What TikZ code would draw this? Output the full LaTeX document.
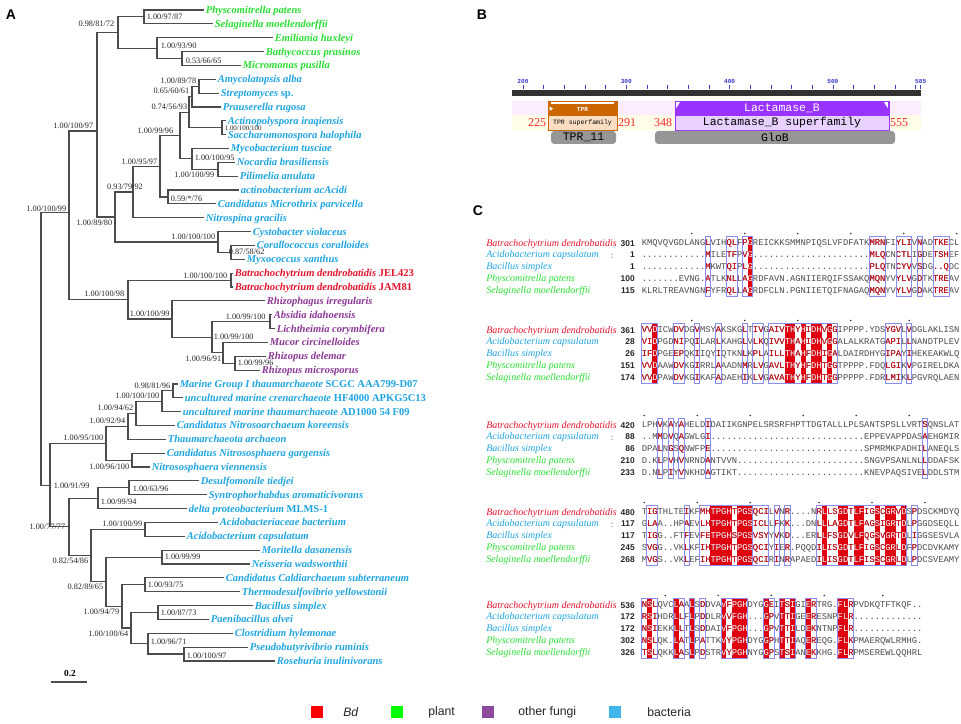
\documentclass[tikz,border=0pt]{standalone}
\usepackage{fontspec}
\setmainfont{Liberation Serif}
\setsansfont{Liberation Sans}
\newfontfamily\seqfont{Liberation Mono}
\usepackage{xcolor}
\usepackage{tikz}
\usetikzlibrary{positioning}

\definecolor{plantgreen}{RGB}{40,222,50}
\definecolor{bactblue}{RGB}{30,165,225}
\definecolor{fungipurple}{RGB}{140,55,150}
\definecolor{bdred}{RGB}{228,20,45}
\definecolor{legred}{RGB}{255,0,0}
\definecolor{leggreen}{RGB}{0,255,0}
\definecolor{legpurple}{RGB}{142,74,156}
\definecolor{legblue}{RGB}{64,182,236}
\definecolor{idred}{RGB}{225,0,15}
\definecolor{simblue}{RGB}{140,140,235}
\definecolor{seqgray}{RGB}{75,75,75}
\definecolor{tprorange}{RGB}{204,102,0}
\definecolor{tprlight}{RGB}{250,222,196}
\definecolor{lactpurple}{RGB}{153,51,255}
\definecolor{lactlight}{RGB}{232,208,255}
\definecolor{bandpink}{RGB}{253,236,253}
\definecolor{bandyellow}{RGB}{255,252,232}
\definecolor{pfamgray}{RGB}{150,150,150}
\definecolor{tickblue}{RGB}{60,60,200}
\definecolor{numred}{RGB}{255,40,40}

% alignment rows
\def\alAa{KMQVQVGDLANGLVIHQLFPGREICKKSMMNPIQSLVFDFATKMRNFIYLIVNADTKECL}
\def\alAb{............MILETFPVG......................MLQCNCTLIGDETSHEF}
\def\alAc{............MKWTQIPLG......................PLQTNCYVVSDG..QDC}
\def\alAd{.......EVNG.ATLKNLLAGRDFAVN.AGNIIERQIFSSAKQMQNYVYLVGDTKTREAV}
\def\alAe{KLRLTREAVNGNFYFRQLLAGRDFCLN.PGNIIETQIFNAGAQMQNYVYLVGDAKTREAV}
\def\alBa{VVDICWDVDGVMSYAKSKGLTIVGAIVTHYHIDHVGGIPPPP.YDSYGVLVDGLAKLISN}
\def\alBb{VIDPGDNIPQILARLKAHGLVLKQIVVTHAHIDHVGGALALKRATGAPILLNANDTPLEV}
\def\alBc{IFDPGEEPQKIIQYIQTKNLKPLAILLTHAHFDHIGALDAIRDHYGIPAYIHEKEAKWLQ}
\def\alBd{VVDAAWDVKGIRRLAAADNMRLVGAVLTHYHFDHTGGTPPPP.FDQLGIKVPGIRELDKA}
\def\alBe{VVDPAWDVKGIKAFADAEHIKLVGAVATHYHFDHTGGPPPPP.FDRLMIKLPGVRQLAEN}
\def\alCa{LPHVKAYAHELDIDAIIKGNPELSRSRFHPTTDGTALLLPLSANTSPSLLVRTSQNSLAT}
\def\alCb{..MMDVQAGWLGI.............................EPPEVAPPDASAEHGMIR}
\def\alCc{DPALNGSQNWFPE.............................SPMRMKPADHILANEQLS}
\def\alCd{D.KLPVHVNRNDANTVVN........................SNGVPSANLNLLDDAFSK}
\def\alCe{D.NLPIYVNKHDAGTIKT........................KNEVPAQSIVELDDLSTM}
\def\alDa{TIGTHLTEIKFMHTPGHTPGSQCILVNR....NRLLSGDTLFIGSCGRVDSPDSCKMDYQ}
\def\alDb{GLAA..HPAEVLHTPGHTPGSICLLFKK...DNLLLAGDTLFAGSIGRTDLPGGDSEQLL}
\def\alDc{TIGG..FTFEVFETPGHSPGSVSYYVKD...ERLLFSGDVLFQGSVGRTDLIGGSESVLA}
\def\alDd{SVGG..VKLKFIHTPGHTPGSQCIYIER.PQQDILISGDTLFIGSCGRLDFPDCDVKAMY}
\def\alDe{MVGS..VKLEFIHTPGHTPGSQCIRINRAPAEDILISGDTLFISSCGRLDLPDCSVEAMY}
\def\alEa{NSLQVCLAALSDDVAVFPGHDYGGEITSIGIERTRG.FLRPVDKQTFTKQF..}
\def\alEb{RSIHDRLLFLPDDLRVVFGH...GPVTTIGEERESNPFLR.............}
\def\alEc{NSIEKKLLTLSDDAIVFPGH...GPVTTILDEKNTNPFLR.............}
\def\alEd{NSLQK.LATLPATTKVYPGHDYGGPHTTIAQEREQG.FLKPMAERQWLRMHG.}
\def\alEe{TSLQKKLASLPDSTRVYPGHNYGGPSTSIANEKKHG.FLRPMSEREWLQQHRL}

\begin{document}
\begin{tikzpicture}[x=0.75pt,y=-0.75pt]
        \tikzset{branch/.style={draw=black!70,line width=0.85pt}};
        \tikzset{taxon/.style={anchor=west,inner sep=1.2pt,text height=5.2pt,text depth=0pt,font=\fontsize{7.9}{8}\selectfont\bfseries\itshape}};
        \tikzset{sup/.style={inner sep=0.4pt,text=black!85,font=\fontsize{6.2}{7}\selectfont}};
        \tikzset{panel/.style={inner sep=0pt,font=\sffamily\bfseries\fontsize{10.5}{12}\selectfont}};
        \tikzset{ticklab/.style={text=tickblue,inner sep=0pt,font=\seqfont\bfseries\fontsize{4.6}{5}\selectfont}};
        \tikzset{tickmark/.style={draw=tickblue,line width=0.5pt}};
        \tikzset{dommono/.style={inner sep=0pt,font=\seqfont\fontsize{8.6}{9}\selectfont}};
        \tikzset{posnum/.style={text=numred,inner sep=0pt,font=\fontsize{9}{10}\selectfont}};
        \tikzset{seq/.style={anchor=base west,inner sep=0pt,font=\seqfont\fontsize{6.62}{7}\selectfont}};
        \tikzset{simbox/.style={draw=simblue,line width=0.55pt}};
        \tikzset{alname/.style={anchor=base west,inner sep=0pt,font=\fontsize{7.5}{8}\selectfont\itshape}};
        \tikzset{alnum/.style={anchor=base east,inner sep=0pt,text=black!85,font=\sffamily\bfseries\fontsize{6.3}{7}\selectfont}};
        \tikzset{rulerdot/.style={circle,fill=black!80,inner sep=0pt,minimum size=1.3pt}};
        \tikzset{legbox/.style={inner sep=0pt,minimum size=9pt}};
        \tikzset{legtext/.style={anchor=west,inner sep=0pt,text=black!85,font=\sffamily\fontsize{9.2}{10}\selectfont}};

        \fill[white] (0,0) rectangle (961,724);
        \useasboundingbox (0,0) rectangle (961,724);

        % panel letters
        \node [panel] (pA) at (11,15) {A};
        \node [panel] (pB) at (482,15) {B};
        \node [panel] (pC) at (478,211) {C};

        % A: tree leaves
        \foreach \nm/\x/\col/\txt [count=\ii from 0] in {
            physco/204/plantgreen/Physcomitrella patens,
            selag/213/plantgreen/Selaginella moellendorffii,
            emil/273/plantgreen/Emiliania huxleyi,
            bathy/264/plantgreen/Bathycoccus prasinos,
            micro/241/plantgreen/Micromonas pusilla,
            amy/216/bactblue/Amycolatopsis alba,
            strep/219/bactblue/Streptomyces \textup{sp.},
            praus/221/bactblue/Prauserella rugosa,
            actino/226/bactblue/Actinopolyspora iraqiensis,
            sacch/226/bactblue/Saccharomonospora halophila,
            myco/229/bactblue/Mycobacterium tusciae,
            nocar/235/bactblue/Nocardia brasiliensis,
            pilim/238/bactblue/Pilimelia anulata,
            acaci/239/bactblue/actinobacterium acAcidi,
            micthr/216/bactblue/Candidatus Microthrix parvicella,
            nitsp/204/bactblue/Nitrospina gracilis,
            cysto/251/bactblue/Cystobacter violaceus,
            coral/255/bactblue/Corallococcus coralloides,
            myxo/245/bactblue/Myxococcus xanthus,
            bdjel/233/bdred/Batrachochytrium dendrobatidis \textup{JEL423},
            bdjam/233/bdred/Batrachochytrium dendrobatidis \textup{JAM81},
            rhizph/265/fungipurple/Rhizophagus irregularis,
            absid/272/fungipurple/Absidia idahoensis,
            licht/275/fungipurple/Lichtheimia corymbifera,
            mucor/268/fungipurple/Mucor circinelloides,
            rhdel/266/fungipurple/Rhizopus delemar,
            rhmic/260/fungipurple/Rhizopus microsporus,
            marine/178/bactblue/Marine Group I thaumarchaeote \textup{SCGC AAA799-D07},
            unccren/183/bactblue/uncultured marine crenarchaeote \textup{HF4000 APKG5C13},
            uncthau/181/bactblue/uncultured marine thaumarchaeote \textup{AD1000 54 F09},
            nskor/175/bactblue/Candidatus Nitrosoarchaeum koreensis,
            thauar/166/bactblue/Thaumarchaeota archaeon,
            nsgar/165/bactblue/Candidatus Nitrososphaera gargensis,
            nsvie/150/bactblue/Nitrososphaera viennensis,
            desulf/199/bactblue/Desulfomonile tiedjei,
            syntro/207/bactblue/Syntrophorhabdus aromaticivorans,
            delta/187/bactblue/delta proteobacterium \textup{MLMS-1},
            acidae/218/bactblue/Acidobacteriaceae bacterium,
            acicap/185/bactblue/Acidobacterium capsulatum,
            morit/260/bactblue/Moritella dasanensis,
            neiss/250/bactblue/Neisseria wadsworthii,
            caldi/224/bactblue/Candidatus Caldiarchaeum subterraneum,
            thermo/240/bactblue/Thermodesulfovibrio yellowstonii,
            bacil/253/bactblue/Bacillus simplex,
            paeni/209/bactblue/Paenibacillus alvei,
            clost/233/bactblue/Clostridium hylemonae,
            pseudo/248/bactblue/Pseudobutyrivibrio ruminis,
            roseb/275/bactblue/Roseburia inulinivorans}
            \node [taxon,text=\col] (\nm) at (\x,{10+\ii*13.85}) {\txt};

        % A: inner nodes
        \foreach \nm/\x/\y in {nroot/41/348.6, nupper/69/212.1, nplbac/97/131, nplant/118/32.5,
            nmoss/144/16.9, nalgae/157/48.1, nmicro/182/58.5, nbact/115/217.0, nactino/133/192.0,
            nact1/160/166.2, nact2/180/135.5, nact3/168/197.0, nact4/189/112.2, nact5/192/96.6,
            namy/199/86.2, nactsac/222/127.7, nmyco/192/158.9, nnoc/218/169.3, nmyxo/218/242.0,
            ncoral/231/252.4, nfungi/128/299.6, nbd/231/280.1, nfun2/172/319.0, nmuc/212/337.2,
            nabs/270/321.6, nmuc2/223/352.8, nrhiz/235/363.2, nlower/50/485.1, narch/106/443.3,
            narch2/128/426.4, narch3/136/413.4, narch4/162/401.3, narch5/173/390.9, nnso/132/460.1,
            nbac2/69/526.9, ndelta/98/498.2, ndesulf/129/487.8, nbac3/91/555.6, nacido/145/529.4,
            nbac4/106/581.8, nmor/162/557.1, nbac5/122/606.4, ncald/145/584.8, nbac6/131/628.0,
            nbacil/158/612.5, nclos/148/643.6, npseud/184/654.0}
            \coordinate (\nm) at (\x,\y);

        % A: branches
        \foreach \p/\c in {nroot/nupper, nroot/nlower, nupper/nplbac, nupper/nfungi,
            nplbac/nplant, nplbac/nbact, nplant/nmoss, nplant/nalgae, nmoss/physco, nmoss/selag,
            nalgae/emil, nalgae/nmicro, nmicro/bathy, nmicro/micro, nbact/nactino, nbact/nmyxo,
            nactino/nact1, nactino/nitsp, nact1/nact2, nact1/nact3, nact3/acaci, nact3/micthr,
            nact2/nact4, nact2/nmyco, nact4/nact5, nact4/nactsac, nact5/namy, nact5/praus,
            namy/amy, namy/strep, nactsac/actino, nactsac/sacch, nmyco/myco, nmyco/nnoc,
            nnoc/nocar, nnoc/pilim, nmyxo/cysto, nmyxo/ncoral, ncoral/coral, ncoral/myxo,
            nfungi/nbd, nfungi/nfun2, nbd/bdjel, nbd/bdjam, nfun2/rhizph, nfun2/nmuc,
            nmuc/nabs, nmuc/nmuc2, nabs/absid, nabs/licht, nmuc2/mucor, nmuc2/nrhiz,
            nrhiz/rhdel, nrhiz/rhmic, nlower/narch, nlower/nbac2, narch/narch2, narch/nnso,
            narch2/narch3, narch2/thauar, narch3/narch4, narch3/nskor, narch4/narch5, narch4/uncthau,
            narch5/marine, narch5/unccren, nnso/nsgar, nnso/nsvie, nbac2/ndelta, nbac2/nbac3,
            ndelta/ndesulf, ndelta/delta, ndesulf/desulf, ndesulf/syntro, nbac3/nacido, nbac3/nbac4,
            nacido/acidae, nacido/acicap, nbac4/nmor, nbac4/nbac5, nmor/morit, nmor/neiss,
            nbac5/ncald, nbac5/nbac6, ncald/caldi, ncald/thermo, nbac6/nbacil, nbac6/nclos,
            nbacil/bacil, nbacil/paeni, nclos/clost, nclos/npseud, npseud/pseudo, npseud/roseb}
            \draw [branch] (\p) |- (\c);

        % A: support values
        \node [sup,anchor=west] (lmoss) at (146,17) {1.00/97/87};
        \node [sup,anchor=east] (lplant) at (115,24) {0.98/81/72};
        \node [sup,anchor=west] (lalgae) at (160,46) {1.00/93/90};
        \node [sup,anchor=west] (lmicro) at (185,61) {0.53/66/65};
        \node [sup,anchor=east] (lamy) at (197,81) {1.00/89/78};
        \node [sup,anchor=east] (lact5) at (190,91) {0.65/60/61};
        \node [sup,anchor=east] (lact4) at (188,107) {0.74/56/93};
        \node [sup,anchor=west,font=\fontsize{5.2}{6}\selectfont] (lactsac) at (224,128) {1.00/100/100};
        \node [sup,anchor=east] (lact2) at (174,131) {1.00/99/96};
        \node [sup,anchor=west] (lmyco) at (194,158) {1.00/100/95};
        \node [sup,anchor=east] (lact1) at (158,162) {1.00/95/97};
        \node [sup,anchor=east] (lnoc) at (215,175) {1.00/100/99};
        \node [sup] (lactino) at (125,187) {0.93/79/92};
        \node [sup,anchor=west] (lact3) at (170,199) {0.59/*/76};
        \node [sup,anchor=south east] (lplbac) at (94,129.5) {1.00/100/97};
        \node [sup,anchor=east] (lupper) at (67,209) {1.00/100/99};
        \node [sup,anchor=east] (lbact) at (113,223) {1.00/89/80};
        \node [sup,anchor=east] (lmyxo) at (216,237) {1.00/100/100};
        \node [sup,anchor=west] (lcoral) at (228,252) {0.87/58/62};
        \node [sup,anchor=east] (lbd) at (228,276) {1.00/100/100};
        \node [sup,anchor=east] (lfungi) at (125,294) {1.00/100/98};
        \node [sup,anchor=west] (lfun2) at (129,314) {1.00/100/99};
        \node [sup,anchor=west] (labs) at (225,317) {1.00/99/100};
        \node [sup,anchor=west] (lmuc) at (213,337) {1.00/99/100};
        \node [sup,anchor=east] (lmuc2) at (222,359) {1.00/96/91};
        \node [sup,anchor=west] (lrhiz) at (237,362.5) {1.00/99/96};
        \node [sup,anchor=east] (lnarch5) at (171,386) {0.98/81/96};
        \node [sup,anchor=east] (lnarch4) at (160,396) {1.00/100/100};
        \node [sup,anchor=east] (lnarch3) at (134,408) {1.00/94/62};
        \node [sup,anchor=east] (lnarch2) at (126,421) {1.00/92/94};
        \node [sup,anchor=east] (lnarch) at (104,438) {1.00/95/100};
        \node [sup,anchor=east] (lnso) at (130,467) {1.00/96/100};
        \node [sup,anchor=west] (llower) at (53,486) {1.00/91/99};
        \node [sup,anchor=west] (ldesulf) at (132,489) {1.00/63/96};
        \node [sup,anchor=west] (ldelta) at (100,502) {1.00/99/94};
        \node [sup,anchor=east] (lacido) at (143,524) {1.00/100/99};
        \node [sup,anchor=east] (lbac2) at (66,527) {1.00/77/77};
        \node [sup,anchor=east] (lbac3) at (89,561) {0.82/54/86};
        \node [sup,anchor=west] (lmor) at (164,557) {1.00/99/99};
        \node [sup,anchor=east] (lbac4) at (104,587) {0.82/89/65};
        \node [sup,anchor=west] (lcald) at (147,585) {1.00/93/75};
        \node [sup,anchor=east] (lbac5) at (120,612) {1.00/94/79};
        \node [sup,anchor=west] (lbacil) at (160,613) {1.00/87/73};
        \node [sup,anchor=east] (lbac6) at (129,634) {1.00/100/64};
        \node [sup,anchor=west] (lclos) at (150,642) {1.00/96/71};
        \node [sup,anchor=west] (lpseudo) at (186,656) {1.00/100/97};

        % A: scale bar
        \coordinate (sbl) at (51,682);
        \coordinate (sbr) at (87,682);
        \draw [branch] (sbl) -- (sbr);
        \node [inner sep=0pt,font=\fontsize{7}{8}\selectfont\bfseries] (sblab) at (70,673) {0.2};

        % B: domain map
        \fill [black!80] (512,90) rectangle (921,96);
        \foreach \n in {200,220,...,580} \draw [tickmark] ({523+(\n-200)*1.033},85) -- ({523+(\n-200)*1.033},89.5);
        \draw [tickmark] ({523+385*1.033},85) -- ({523+385*1.033},89.5);
        \foreach \n in {200,300,400,500,585} \node [ticklab] (tick\n) at ({523+(\n-200)*1.033},81) {\n};
        \fill [bandpink] (512,101) rectangle (921,115);
        \fill [bandyellow] (512,115) rectangle (921,130);

        \fill [tprorange] (548,101) rectangle (617,115);
        \draw [white,line width=1.2pt] (551,103.3) -- (614,103.3);
        \fill [white] (549.5,106.5) -- (553,108.7) -- (549.5,110.9) -- cycle;
        \draw [tprorange,fill=tprlight,line width=0.7pt] (548,115) rectangle (617,130);
        \draw [tprorange,line width=0.7pt] (548,101) rectangle (617,130);
        \node [inner sep=0pt,text=white,font=\seqfont\bfseries\fontsize{4.6}{5}\selectfont] (tprtop) at (582.5,109.5) {TPR};
        \node [inner sep=0pt,font=\seqfont\fontsize{4.9}{5}\selectfont] (tprsf) at (582.5,122.5) {TPR superfamily};

        \fill [lactpurple] (675,101) rectangle (889,115);
        \fill [white] (676.2,102.2) -- (680,102.2) -- (676.2,108) -- cycle;
        \fill [white] (887.8,102.2) -- (884,102.2) -- (887.8,108) -- cycle;
        \draw [lactpurple,fill=lactlight,line width=0.7pt] (675,115) rectangle (889,130);
        \draw [lactpurple,line width=0.7pt] (675,101) rectangle (889,130);
        \node [dommono,text=white] (lacttop) at (782,108.3) {Lactamase\_B};
        \node [dommono] (lactsf) at (782,122.8) {Lactamase\_B superfamily};

        \node [posnum] (p225) at (537,122.5) {225};
        \node [posnum] (p291) at (627,122.5) {291};
        \node [posnum] (p348) at (663,122.5) {348};
        \node [posnum] (p555) at (899,122.5) {555};

        \fill [pfamgray,rounded corners=2.5pt] (551,131) rectangle (616,144);
        \fill [pfamgray,rounded corners=2.5pt] (655,131) rectangle (895,144);
        \node [dommono] (tpr11) at (583.5,137.8) {TPR\_11};
        \node [dommono] (glob) at (775,137.8) {GloB};

        % C: names and numbers
        \foreach \Y/\na/\nb/\nc/\nd/\ne [count=\kb] in {243/301/1/1/100/115, 330/361/28/26/151/174,
            425/420/88/86/210/233, 512/480/117/117/245/268, 605/536/172/172/302/326} {
            \node [alname,text=bdred] (nm\kb a) at (486,{\Y+3}) {Batrachochytrium dendrobatidis};
            \node [alname,text=bactblue] (nm\kb b) at (486,{\Y+14.8}) {Acidobacterium capsulatum};
            \node [alname,text=bactblue] (nm\kb c) at (486,{\Y+26.6}) {Bacillus simplex};
            \node [alname,text=plantgreen] (nm\kb d) at (486,{\Y+38.4}) {Physcomitrella patens};
            \node [alname,text=plantgreen] (nm\kb e) at (486,{\Y+50.2}) {Selaginella moellendorffii};
            \node [alnum] (no\kb a) at (635,{\Y+3}) {\na};
            \node [alnum] (no\kb b) at (635,{\Y+14.8}) {\nb};
            \node [alnum] (no\kb c) at (635,{\Y+26.6}) {\nc};
            \node [alnum] (no\kb d) at (635,{\Y+38.4}) {\nd};
            \node [alnum] (no\kb e) at (635,{\Y+50.2}) {\ne};
        }
        \foreach \Y [count=\kb] in {255,437,524} \node [alnum,anchor=base,text=black!40] (colon\kb) at (612,{\Y+3}) {:};

        % C: block 1
        \foreach \cc in {21} \fill [idred] ({641.5+(\cc-1)*5.3},237) rectangle ({641.5+\cc*5.3},296.2);
        \foreach \s [count=\ro from 0] in {\alAa,\alAb,\alAc,\alAd,\alAe} \node [seq,text=seqgray] (a1r\ro) at (641.5,{245.9+\ro*11.8}) {\s};
        \begin{scope}
            \clip \foreach \ca/\cb in {13/13,17/18,20/21,44/46,49/51,53/53,56/58} {({641.5+(\ca-1)*5.3},237) rectangle ({641.5+\cb*5.3},296.2)};
            \foreach \s [count=\ro from 0] in {\alAa,\alAb,\alAc,\alAd,\alAe} \node [seq,text=idred] (a1s\ro) at (641.5,{245.9+\ro*11.8}) {\s};
        \end{scope}
        \begin{scope}
            \clip \foreach \cc in {21} {({641.5+(\cc-1)*5.3},237) rectangle ({641.5+\cc*5.3},296.2)};
            \foreach \s [count=\ro from 0] in {\alAa,\alAb,\alAc,\alAd,\alAe} \node [seq,text=white] (a1w\ro) at (641.5,{245.9+\ro*11.8}) {\s};
        \end{scope}
        \foreach \ca/\cb in {13/13,17/18,20/21,44/46,49/51,53/53,56/58} \draw [simbox] ({641.5+(\ca-1)*5.3},236.5) rectangle ({641.5+\cb*5.3},296.7);
        \foreach \cc in {10,20,30,40,50,60} \node [rulerdot] (a1d\cc) at ({641.5+(\cc-0.5)*5.3},233.5) {};

        % C: block 2
        \foreach \cc in {3,28,29,31,33,34,36} \fill [idred] ({641.5+(\cc-1)*5.3},324) rectangle ({641.5+\cc*5.3},383.2);
        \foreach \s [count=\ro from 0] in {\alBa,\alBb,\alBc,\alBd,\alBe} \node [seq,text=seqgray] (a2r\ro) at (641.5,{332.9+\ro*11.8}) {\s};
        \begin{scope}
            \clip \foreach \ca/\cb in {1/3,7/8,11/11,15/15,20/20,22/23,25/37,47/49,51/51} {({641.5+(\ca-1)*5.3},324) rectangle ({641.5+\cb*5.3},383.2)};
            \foreach \s [count=\ro from 0] in {\alBa,\alBb,\alBc,\alBd,\alBe} \node [seq,text=idred] (a2s\ro) at (641.5,{332.9+\ro*11.8}) {\s};
        \end{scope}
        \begin{scope}
            \clip \foreach \cc in {3,28,29,31,33,34,36} {({641.5+(\cc-1)*5.3},324) rectangle ({641.5+\cc*5.3},383.2)};
            \foreach \s [count=\ro from 0] in {\alBa,\alBb,\alBc,\alBd,\alBe} \node [seq,text=white] (a2w\ro) at (641.5,{332.9+\ro*11.8}) {\s};
        \end{scope}
        \foreach \ca/\cb in {1/3,7/8,11/11,15/15,20/20,22/23,25/37,47/49,51/51} \draw [simbox] ({641.5+(\ca-1)*5.3},323.5) rectangle ({641.5+\cb*5.3},383.7);
        \foreach \cc in {10,20,30,40,51} \node [rulerdot] (a2d\cc) at ({641.5+(\cc-0.5)*5.3},320.5) {};

        % C: block 3
        \foreach \s [count=\ro from 0] in {\alCa,\alCb,\alCc,\alCd,\alCe} \node [seq,text=seqgray] (a3r\ro) at (641.5,{427.9+\ro*11.8}) {\s};
        \begin{scope}
            \clip \foreach \ca/\cb in {4/4,6/6,8/8,13/13,54/54} {({641.5+(\ca-1)*5.3},419) rectangle ({641.5+\cb*5.3},478.2)};
            \foreach \s [count=\ro from 0] in {\alCa,\alCb,\alCc,\alCd,\alCe} \node [seq,text=idred] (a3s\ro) at (641.5,{427.9+\ro*11.8}) {\s};
        \end{scope}
        \foreach \ca/\cb in {4/4,6/6,8/8,13/13,54/54} \draw [simbox] ({641.5+(\ca-1)*5.3},418.5) rectangle ({641.5+\cb*5.3},478.7);
        \foreach \cc in {1,11,21,31,41,51} \node [rulerdot] (a3d\cc) at ({641.5+(\cc-0.5)*5.3},415.5) {};

        % C: block 4
        \foreach \cc in {14,15,16,17,19,20,21,35,38,39,41,42,45,47,48,50} \fill [idred] ({641.5+(\cc-1)*5.3},506) rectangle ({641.5+\cc*5.3},565.2);
        \foreach \s [count=\ro from 0] in {\alDa,\alDb,\alDc,\alDd,\alDe} \node [seq,text=seqgray] (a4r\ro) at (641.5,{514.9+\ro*11.8}) {\s};
        \begin{scope}
            \clip \foreach \ca/\cb in {2/3,9/9,12/21,22/24,26/26,28/28,34/50,52/52} {({641.5+(\ca-1)*5.3},506) rectangle ({641.5+\cb*5.3},565.2)};
            \foreach \s [count=\ro from 0] in {\alDa,\alDb,\alDc,\alDd,\alDe} \node [seq,text=idred] (a4s\ro) at (641.5,{514.9+\ro*11.8}) {\s};
        \end{scope}
        \begin{scope}
            \clip \foreach \cc in {14,15,16,17,19,20,21,35,38,39,41,42,45,47,48,50} {({641.5+(\cc-1)*5.3},506) rectangle ({641.5+\cc*5.3},565.2)};
            \foreach \s [count=\ro from 0] in {\alDa,\alDb,\alDc,\alDd,\alDe} \node [seq,text=white] (a4w\ro) at (641.5,{514.9+\ro*11.8}) {\s};
        \end{scope}
        \foreach \ca/\cb in {2/3,9/9,12/21,22/24,26/26,28/28,34/50,52/52} \draw [simbox] ({641.5+(\ca-1)*5.3},505.5) rectangle ({641.5+\cb*5.3},565.7);
        \foreach \cc in {1,11,21,34,44,54} \node [rulerdot] (a4d\cc) at ({641.5+(\cc-0.5)*5.3},502.5) {};

        % C: block 5
        \foreach \cc in {2,7,10,16,18,19,20,24,27,29,32,38,39} \fill [idred] ({641.5+(\cc-1)*5.3},599) rectangle ({641.5+\cc*5.3},658.2);
        \foreach \s [count=\ro from 0] in {\alEa,\alEb,\alEc,\alEd,\alEe} \node [seq,text=seqgray] (a5r\ro) at (641.5,{607.9+\ro*11.8}) {\s};
        \begin{scope}
            \clip \foreach \ca/\cb in {1/3,7/8,10/10,12/12,16/20,24/25,27/29,32/33,38/40} {({641.5+(\ca-1)*5.3},599) rectangle ({641.5+\cb*5.3},658.2)};
            \foreach \s [count=\ro from 0] in {\alEa,\alEb,\alEc,\alEd,\alEe} \node [seq,text=idred] (a5s\ro) at (641.5,{607.9+\ro*11.8}) {\s};
        \end{scope}
        \begin{scope}
            \clip \foreach \cc in {2,7,10,16,18,19,20,24,27,29,32,38,39} {({641.5+(\cc-1)*5.3},599) rectangle ({641.5+\cc*5.3},658.2)};
            \foreach \s [count=\ro from 0] in {\alEa,\alEb,\alEc,\alEd,\alEe} \node [seq,text=white] (a5w\ro) at (641.5,{607.9+\ro*11.8}) {\s};
        \end{scope}
        \foreach \ca/\cb in {1/3,7/8,10/10,12/12,16/20,24/25,27/29,32/33,38/40} \draw [simbox] ({641.5+(\ca-1)*5.3},598.5) rectangle ({641.5+\cb*5.3},658.7);
        \foreach \cc in {5,15,25,35,46} \node [rulerdot] (a5d\cc) at ({641.5+(\cc-0.5)*5.3},595.5) {};

        % legend
        \foreach \nm/\x/\tx/\col/\txt in {lgbd/317/343/legred/\textit{Bd}, lgplant/397/428/leggreen/plant,
            lgfungi/488/518/legpurple/other fungi, lgbact/615/647/legblue/bacteria} {
            \node [legbox,fill=\col] (\nm box) at (\x,712) {};
            \node [legtext] (\nm) at (\tx,712) {\txt};
        }
    \end{tikzpicture}
\end{document}
